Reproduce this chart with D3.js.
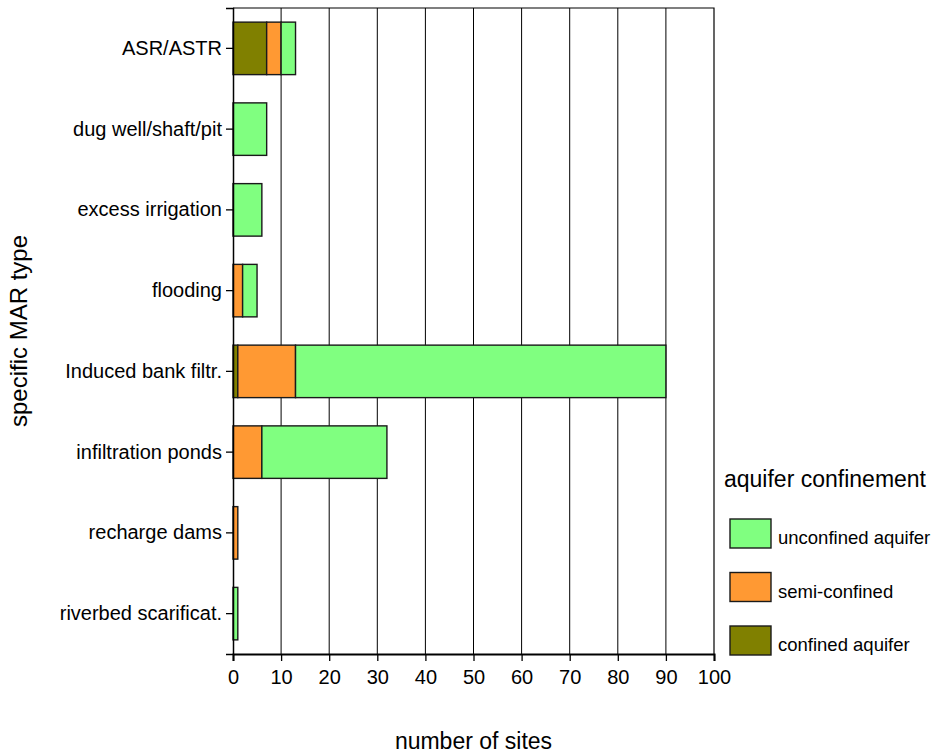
<!DOCTYPE html>
<html>
<head>
<meta charset="utf-8">
<script src="https://cdn.jsdelivr.net/npm/d3@7"></script>
<style>
  html, body { margin: 0; padding: 0; background: #fff; }
  svg { display: block; font-family: "Liberation Sans", Arial, sans-serif; }
</style>
</head>
<body>
<svg id="chart" width="934" height="755"></svg>
<script>
// MAR types, bottom of the stack first: confined, semi-confined, unconfined
const categories = ["ASR/ASTR", "dug well/shaft/pit", "excess irrigation", "flooding",
  "Induced bank filtr.", "infiltration ponds", "recharge dams", "riverbed scarificat."];
const confined   = [7, 0, 0, 0, 1, 0, 0, 0];
const semiConf   = [3, 0, 0, 2, 12, 6, 1, 0];
const unconfined = [3, 7, 6, 3, 77, 26, 0, 1];
const xTicks = [0, 10, 20, 30, 40, 50, 60, 70, 80, 90, 100];

const seriesKeys   = ["confined", "semi", "unconfined"];
const seriesLabels = { unconfined: "unconfined aquifer", semi: "semi-confined", confined: "confined aquifer" };
const seriesColors = { unconfined: "#80ff80", semi: "#ff9933", confined: "#808000" };
const legendOrder  = ["unconfined", "semi", "confined"];

const rows = categories.map((c, i) => ({
  cat: c, confined: confined[i], semi: semiConf[i], unconfined: unconfined[i]
}));

const svg = d3.select("#chart");
const plotL = 233, plotR = 714, plotT = 8, plotB = 654;

const x = d3.scaleLinear().domain([0, 100]).range([plotL, plotR]);
const y = d3.scaleBand().domain(categories).range([plotT, plotB])
  .paddingInner(0.35).paddingOuter(0.175);

// vertical grid lines
svg.append("g").selectAll("line")
  .data(xTicks.slice(1, -1))
  .join("line")
  .attr("x1", d => x(d)).attr("x2", d => x(d))
  .attr("y1", plotT).attr("y2", plotB)
  .attr("stroke", "#000").attr("stroke-width", 1);

// plot frame (top + right)
svg.append("path")
  .attr("d", `M${plotL},${plotT}H${plotR}V${plotB}`)
  .attr("fill", "none").attr("stroke", "#000").attr("stroke-width", 1.2);

// stacked bars
const stacked = d3.stack().keys(seriesKeys)(rows);
svg.append("g").selectAll("g")
  .data(stacked)
  .join("g")
  .attr("fill", d => seriesColors[d.key])
  .selectAll("rect")
  .data(d => d.filter(p => p[1] - p[0] > 0))
  .join("rect")
  .attr("x", d => x(d[0]))
  .attr("width", d => x(d[1]) - x(d[0]))
  .attr("y", d => y(d.data.cat))
  .attr("height", y.bandwidth())
  .attr("stroke", "#1a1a1a").attr("stroke-width", 1.4);

// axes
const xAxis = svg.append("g")
  .attr("transform", `translate(0,${plotB})`)
  .call(d3.axisBottom(x).tickValues(xTicks).tickSize(7).tickPadding(9));
xAxis.select(".domain").attr("stroke-width", 2);
xAxis.selectAll(".tick line").attr("stroke-width", 1.3);
xAxis.selectAll("text").attr("font-size", 20).attr("fill", "#000")
  .attr("font-family", "Liberation Sans, Arial, sans-serif");

const yAxis = svg.append("g")
  .attr("transform", `translate(${plotL},0)`)
  .call(d3.axisLeft(y).tickSize(7).tickPadding(4));
yAxis.select(".domain").attr("stroke-width", 1.5);
yAxis.selectAll(".tick line").attr("stroke-width", 1.3);
yAxis.selectAll("text").attr("font-size", 20).attr("fill", "#000")
  .attr("font-family", "Liberation Sans, Arial, sans-serif");

// axis titles
svg.append("text")
  .attr("x", (plotL + plotR) / 2).attr("y", 749)
  .attr("text-anchor", "middle").attr("font-size", 23)
  .text("number of sites");

svg.append("text")
  .attr("transform", `translate(27,${(plotT + plotB) / 2}) rotate(-90)`)
  .attr("text-anchor", "middle").attr("font-size", 24)
  .text("specific MAR type");

// legend
const lg = svg.append("g");
lg.append("text")
  .attr("x", 724).attr("y", 487)
  .attr("font-size", 23)
  .text("aquifer confinement");

const item = lg.selectAll("g.item")
  .data(legendOrder)
  .join("g").attr("class", "item")
  .attr("transform", (d, i) => `translate(730,${519 + i * 53.5})`);
item.append("rect")
  .attr("width", 41).attr("height", 29)
  .attr("fill", d => seriesColors[d])
  .attr("stroke", "#1a1a1a").attr("stroke-width", 1.4);
item.append("text")
  .attr("x", 48).attr("y", 25)
  .attr("font-size", 18.5)
  .text(d => seriesLabels[d]);
</script>
</body>
</html>
